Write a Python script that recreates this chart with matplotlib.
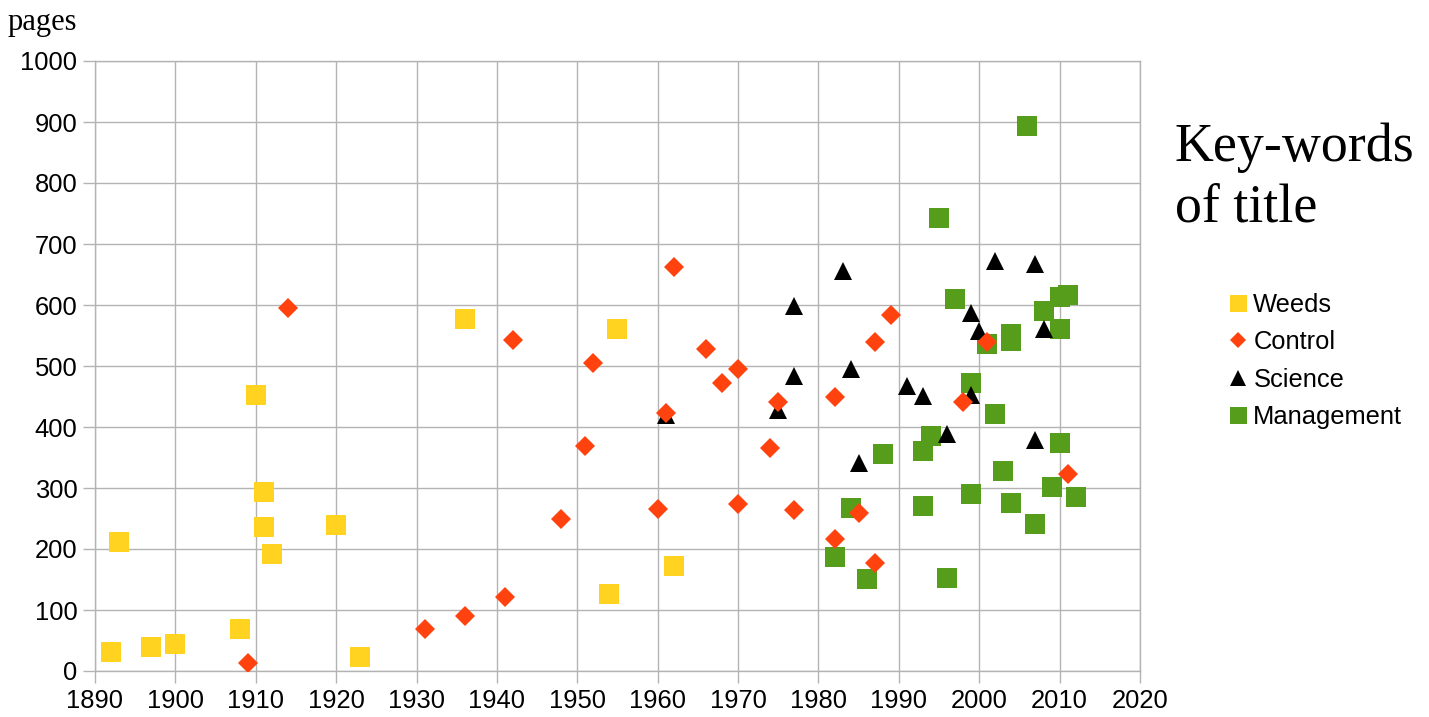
import matplotlib.pyplot as plt

# --- data (year, pages) ---
weeds_year = [1892, 1893, 1897, 1900, 1908, 1910, 1911, 1911, 1912, 1920, 1923, 1936, 1954, 1955, 1962]
weeds_pages = [31, 211, 39, 44, 69, 452, 293, 236, 192, 239, 23, 577, 126, 561, 172]

control_year = [1909, 1914, 1931, 1936, 1941, 1942, 1948, 1951, 1952, 1960, 1961, 1962, 1966, 1968,
                1970, 1970, 1974, 1975, 1977, 1982, 1982, 1985, 1987, 1987, 1989, 1998, 2001, 2011]
control_pages = [13, 595, 69, 90, 121, 543, 249, 369, 505, 265, 423, 662, 528, 472,
                 495, 274, 366, 441, 264, 449, 216, 259, 539, 177, 584, 441, 539, 323]

science_year = [1961, 1975, 1977, 1977, 1983, 1984, 1985, 1991, 1993, 1996, 1999, 2000, 1999,
                2002, 2007, 2008, 2007]
science_pages = [420, 428, 484, 598, 656, 495, 341, 467, 451, 389, 587, 557, 452,
                 672, 667, 561, 379]

mgmt_year = [2006, 1995, 1997, 2008, 2010, 2011, 2010, 2004, 2004, 2001, 1999, 2002, 1994, 1993,
             1988, 2010, 2003, 2009, 2012, 1999, 1993, 2004, 1984, 2007, 1982, 1986, 1996]
mgmt_pages = [893, 743, 610, 590, 613, 616, 561, 552, 541, 536, 472, 421, 385, 361,
              356, 374, 328, 302, 285, 290, 270, 275, 267, 241, 187, 151, 152]

x_ticks = list(range(1890, 2021, 10))
y_ticks = list(range(0, 1001, 100))

sans = "Liberation Sans"
serif = "Liberation Serif"
grid_c = "#b3b3b3"

fig = plt.figure(figsize=(14.29, 7.17), dpi=100)
W, H = 1429, 717
ax = fig.add_axes([95 / W, 1 - 671 / H, (1140 - 95) / W, (671 - 61) / H])

# series (draw order: management at the bottom, control on top)
h_w, = ax.plot(weeds_year, weeds_pages, "s", color="#ffd320", ms=14.4, mew=0, zorder=6, label="Weeds")
h_c, = ax.plot(control_year, control_pages, "D", color="#ff420e", ms=9.8, mew=0, zorder=5, label="Control")
h_s, = ax.plot(science_year, science_pages, "^", color="#000000", ms=13.5, mew=0, zorder=4, label="Science")
h_m, = ax.plot(mgmt_year, mgmt_pages, "s", color="#579d1c", ms=14.4, mew=0, zorder=3, label="Management")

ax.set_xlim(1890, 2020)
ax.set_ylim(0, 1000)
ax.set_xticks(x_ticks)
ax.set_yticks(y_ticks)
ax.grid(True, color=grid_c, linewidth=1.0)
ax.set_axisbelow(True)
for s in ax.spines.values():
    s.set_color(grid_c)
    s.set_linewidth(1.0)
ax.tick_params(direction="out", length=8.6, width=1.0, color=grid_c, labelsize=18.4, pad=4)
for lab in ax.get_xticklabels() + ax.get_yticklabels():
    lab.set_family(sans)

# axis caption and title
fig.text(8 / W, 1 - 30 / H, "pages", fontsize=22, family=serif, va="baseline", ha="left")
fig.text(1175 / W, 1 - 161 / H, "Key-words", fontsize=38.8, family=serif, va="baseline", ha="left")
fig.text(1175 / W, 1 - 222 / H, "of title", fontsize=38.8, family=serif, va="baseline", ha="left")

leg = fig.legend(handles=[h_w, h_c, h_s, h_m], loc="center left",
                 bbox_to_anchor=(1215 / W, 1 - 361 / H), frameon=False,
                 prop={"family": sans, "size": 18.4}, markerscale=0.85,
                 handlelength=0.8, handletextpad=0.2, labelspacing=0.53, borderpad=0)

fig.savefig("out.png", dpi=100)
